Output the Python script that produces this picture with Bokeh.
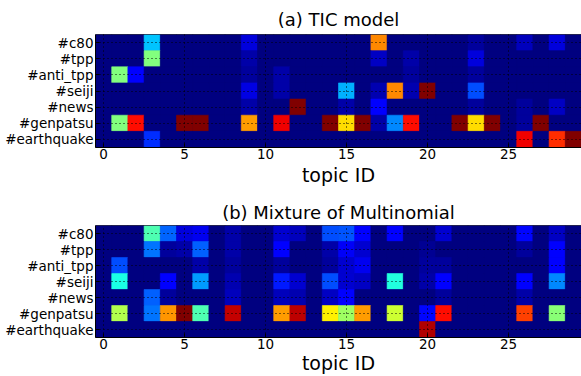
import numpy as np
from bokeh.plotting import figure
from bokeh.layouts import column
from bokeh.models import ColumnDataSource, LinearColorMapper, FixedTicker, FactorRange, Range1d, Span
from bokeh.transform import transform
from bokeh.embed import file_html
from bokeh.resources import INLINE

hashtags = ["#c80", "#tpp", "#anti_tpp", "#seiji", "#news", "#genpatsu", "#earthquake"]
topic_ids = list(range(30))
x_ticks = [0, 5, 10, 15, 20, 25]
titles = ["(a) TIC model", "(b) Mixture of Multinomial"]
x_label = "topic ID"

# (a) TIC model, rows = hashtags, columns = topic 0..29
tic_c80        = [0, 0, 0, .32, 0, 0, 0, 0, 0, .09, 0, 0, 0, 0, 0, 0, 0, .74, 0, 0, 0, 0, 0, .03, 0, 0, .06, 0, .09, 0]
tic_tpp        = [0, 0, 0, .50, 0, 0, 0, 0, 0, .04, 0, 0, 0, 0, 0, 0, 0, .07, 0, .04, 0, 0, 0, .09, 0, 0, 0, 0, 0, 0]
tic_anti_tpp   = [0, .50, .125, 0, 0, 0, 0, 0, 0, .03, 0, .04, 0, 0, 0, 0, 0, 0, 0, .03, 0, 0, 0, .03, 0, 0, 0, 0, 0, 0]
tic_seiji      = [0, 0, 0, 0, 0, 0, 0, 0, 0, .10, 0, .04, 0, 0, 0, .30, 0, .05, .74, .05, 1.0, 0, 0, .20, 0, 0, 0, 0, 0, 0]
tic_news       = [0, 0, 0, 0, 0, 0, 0, 0, 0, .04, 0, 0, 1.0, 0, 0, .04, 0, .125, 0, 0, 0, 0, 0, .03, 0, 0, .03, 0, .07, 0]
tic_genpatsu   = [0, .50, .86, 0, 0, 1.0, 1.0, 0, 0, .72, 0, .89, 0, 0, 1.0, .66, 1.0, .04, .26, .86, 0, 0, 1.0, .66, 1.0, 0, .03, 1.0, 0, 0]
tic_earthquake = [0, 0, 0, .17, 0, 0, 0, 0, 0, 0, 0, 0, 0, 0, 0, 0, 0, 0, 0, 0, 0, 0, 0, 0, 0, 0, .89, 0, .83, 1.0]

# (b) Mixture of Multinomial
mm_c80        = [0, 0, 0, .45, .225, .09, .11, 0, .04, 0, 0, .08, .06, 0, .20, .21, .125, 0, .125, 0, 0, .08, 0, 0, 0, 0, .13, 0, .07, 0]
mm_tpp        = [0, 0, 0, .24, .03, .04, .22, 0, .04, 0, 0, .125, 0, 0, .04, .12, .08, 0, 0, 0, .02, 0, 0, 0, 0, 0, .03, 0, .125, 0]
mm_anti_tpp   = [0, .20, 0, 0, 0, 0, .04, 0, .03, 0, 0, .03, 0, 0, .03, .08, .11, 0, 0, 0, .03, .03, 0, 0, 0, 0, 0, 0, .125, 0]
mm_seiji      = [0, .40, 0, 0, .125, 0, .28, 0, .05, 0, 0, .15, .08, 0, .20, .08, .07, 0, .41, 0, .04, .125, 0, 0, 0, 0, .125, 0, .26, 0]
mm_news       = [0, 0, 0, .22, .03, 0, 0, 0, .06, 0, 0, .06, .05, 0, .07, .125, 0, 0, 0, 0, 0, .03, 0, 0, 0, 0, .04, 0, 0, 0]
mm_genpatsu   = [0, .55, 0, .24, .73, 1.0, .45, 0, .93, 0, 0, .72, .94, 0, .64, .53, .72, 0, .575, 0, .13, .86, 0, 0, 0, 0, .81, 0, .51, 0]
mm_earthquake = [0, 0, 0, 0, 0, 0, 0, 0, 0, 0, 0, 0, 0, 0, 0, 0, 0, 0, 0, 0, .95, 0, 0, 0, 0, 0, 0, 0, 0, 0]

tic_rows = [tic_c80, tic_tpp, tic_anti_tpp, tic_seiji, tic_news, tic_genpatsu, tic_earthquake]
mm_rows = [mm_c80, mm_tpp, mm_anti_tpp, mm_seiji, mm_news, mm_genpatsu, mm_earthquake]


def jet_palette(n=256):
    t = np.linspace(0, 1, n)
    r = np.clip(1.5 - np.abs(4 * t - 3), 0, 1)
    g = np.clip(1.5 - np.abs(4 * t - 2), 0, 1)
    b = np.clip(1.5 - np.abs(4 * t - 1), 0, 1)
    return ["#%02x%02x%02x" % (int(round(a * 255)), int(round(c * 255)), int(round(d * 255)))
            for a, c, d in zip(r, g, b)]


mapper = LinearColorMapper(palette=jet_palette(), low=0, high=1)
FONT = "DejaVu Sans"


def style_axis(ax, size="13.5px", standoff=3):
    ax.major_label_text_font = FONT
    ax.major_label_text_font_size = size
    ax.major_label_text_color = "black"
    ax.major_tick_in = 4
    ax.major_tick_out = 0
    ax.minor_tick_in = 0
    ax.minor_tick_out = 0
    ax.major_tick_line_color = "black"
    ax.axis_line_color = "black"
    ax.axis_line_width = 1
    ax.major_label_standoff = standoff


def make_fig(rows, title, height, top, bottom, title_standoff, label_standoff):
    xs, ys, vs = [], [], []
    for tag, row in zip(hashtags, rows):
        for t, v in zip(topic_ids, row):
            xs.append(t)
            ys.append(tag)
            vs.append(v)
    src = ColumnDataSource(dict(x=xs, y=ys, v=vs))
    p = figure(width=581, height=height, output_backend="svg", toolbar_location=None,
               x_range=Range1d(-0.5, 29.5), y_range=FactorRange(*reversed(hashtags)),
               min_border_left=95, min_border_right=0, min_border_top=top, min_border_bottom=bottom)
    p.rect(x="x", y="y", width=1, height=1, source=src,
           fill_color=transform("v", mapper), line_color=transform("v", mapper), line_width=0.6)
    p.background_fill_color = "#000080"
    p.border_fill_color = "white"
    p.outline_line_color = None
    p.add_layout(Span(location=len(hashtags), dimension="width", line_color="black", line_width=1))

    p.title.text = title
    p.title.align = "center"
    p.title.text_font = FONT
    p.title.text_font_size = "18px"
    p.title.text_font_style = "normal"
    p.title.text_color = "black"
    p.title.standoff = title_standoff

    xax = p.below[0]
    xax.ticker = FixedTicker(ticks=x_ticks)
    xax.axis_label = x_label
    xax.axis_label_text_font = FONT
    xax.axis_label_text_font_size = "19px"
    xax.axis_label_text_font_style = "normal"
    xax.axis_label_text_color = "black"
    xax.axis_label_standoff = label_standoff
    style_axis(p.left[0], size="13.5px", standoff=2)
    style_axis(xax, size="13.5px", standoff=1)

    for g in (p.xgrid, p.ygrid):
        g.grid_line_color = "black"
        g.grid_line_dash = "1 3"
        g.grid_line_width = 1
        g.grid_line_alpha = 1
        g.level = "overlay"
    return p


p1 = make_fig(tic_rows, titles[0], 190, 34, 43, 9, 2)
p2 = make_fig(mm_rows, titles[1], 186, 35, 39, 6, 0)
layout = column(p1, p2, spacing=0)

open("out.html", "w").write(file_html(layout, INLINE))
